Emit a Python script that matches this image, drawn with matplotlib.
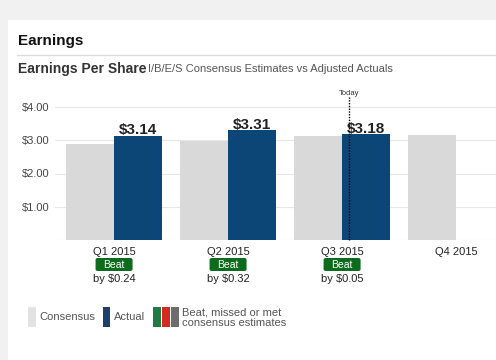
import matplotlib
matplotlib.use('Agg')
import matplotlib.pyplot as plt
import numpy as np
from matplotlib.patches import Rectangle, FancyBboxPatch
from matplotlib.lines import Line2D
from matplotlib.transforms import blended_transform_factory

# Data
quarters = ['Q1 2015', 'Q2 2015', 'Q3 2015', 'Q4 2015']
consensus = [2.90, 2.99, 3.13, 3.16]
actual = [3.14, 3.31, 3.18]
results = ['Beat', 'Beat', 'Beat']
surprise = [0.24, 0.32, 0.05]
y_ticks = [1, 2, 3, 4]
today_pos = 2.06

W, H = 496, 360
plt.rcParams['font.family'] = ['Liberation Sans', 'DejaVu Sans']

CONS = '#d9d9d9'
ACT = '#0b4677'
GREEN = '#0d6b1d'


def fx(px):
    return px / W


def fy(py):
    return 1 - py / H


fig = plt.figure(figsize=(W / 100, H / 100), dpi=100, facecolor='#f1f1f1')

# white card behind everything
fig.add_artist(Rectangle((fx(8), 0), 1 - fx(8), fy(20), transform=fig.transFigure,
                         facecolor='white', edgecolor='none', zorder=-5))
fig.add_artist(Line2D([fx(17), 1], [fy(55), fy(55)], transform=fig.transFigure,
                      color='#dddddd', lw=1))

fig.text(fx(18), fy(45), 'Earnings', fontsize=11, fontweight='bold', color='#111111')
fig.text(fx(18), fy(72.5), 'Earnings Per Share', fontsize=10, fontweight='bold', color='#333333')
fig.text(fx(148), fy(72.5), 'I/B/E/S Consensus Estimates vs Adjusted Actuals',
         fontsize=8, color='#555555')

# plot area
ymax = 4.3
px_per_unit = 33.25
top_py = 240 - ymax * px_per_unit
ax = fig.add_axes([fx(55), fy(240), 1 - fx(55), (240 - top_py) / H])
ax.set_facecolor('none')
ax.set_xlim(-0.518, 3.35)
ax.set_ylim(0, ymax)

x = np.arange(len(quarters))
w = 0.42
ax.bar(x - w / 2, consensus, width=w, color=CONS, linewidth=0, zorder=2)
ax.bar(x[:len(actual)] + w / 2, actual, width=w, color=ACT, linewidth=0, zorder=2)

for i, v in enumerate(actual):
    ax.annotate(f'${v:.2f}', (i + w / 2, v), xytext=(0, 1), textcoords='offset points',
                ha='center', va='baseline', fontsize=11, fontweight='bold',
                color='#222222', zorder=4)

ax.set_yticks(y_ticks)
ax.set_yticklabels([f'${v:.2f}' for v in y_ticks])
ax.set_xticks([])
ax.tick_params(axis='y', length=0, pad=4, labelsize=8, labelcolor='#444444')
ax.yaxis.grid(True, color='#e6e6e6', lw=0.8, zorder=0)
ax.axhline(0, color='#dddddd', lw=0.8, zorder=1)
for s in ax.spines.values():
    s.set_visible(False)

# "Today" marker
ax.plot([today_pos, today_pos], [0, ymax], color='black', lw=1, ls=(0, (1, 1)),
        zorder=5, clip_on=False)
ax.annotate('Today', (today_pos, ymax), xytext=(0, 1.5), textcoords='offset points',
            ha='center', va='baseline', fontsize=5.5, color='#333333')

# labels under the axis
bt = blended_transform_factory(ax.transData, fig.transFigure)
for i, q in enumerate(quarters):
    ax.text(i, fy(255), q, transform=bt, ha='center', va='baseline',
            fontsize=8, color='#222222')

fig.canvas.draw()
for i, (r, s) in enumerate(zip(results, surprise)):
    cx = ax.transData.transform((i, 0))[0]
    fig.add_artist(FancyBboxPatch((fx(cx - 18.5), fy(271)), fx(37), 13 / H,
                                  boxstyle='round,pad=0,rounding_size=0.004',
                                  transform=fig.transFigure, facecolor=GREEN,
                                  edgecolor='none', mutation_aspect=W / H))
    fig.text(fx(cx), fy(264.5), r, ha='center', va='center', fontsize=7.5,
             color='white')
    fig.text(fx(cx), fy(282.5), f'by ${s:.2f}', ha='center', va='baseline',
             fontsize=8, color='#222222')

# legend
def swatch(x0, x1, color):
    fig.add_artist(Rectangle((fx(x0), fy(327)), fx(x1 - x0), 20 / H,
                             transform=fig.transFigure, facecolor=color,
                             edgecolor='none'))


swatch(28, 36, '#e2e2e2')
fig.text(fx(39), fy(317.5), 'Consensus', va='center', fontsize=8, color='#555555')
swatch(103, 110, '#1c3f6e')
fig.text(fx(114), fy(317.5), 'Actual', va='center', fontsize=8, color='#555555')
swatch(153, 161, '#1f7a44')
swatch(162, 170, '#d42a22')
swatch(171, 179, '#6d6d6d')
fig.text(fx(182), fy(312.3), 'Beat, missed or met', va='center', fontsize=8, color='#555555')
fig.text(fx(182), fy(322.8), 'consensus estimates', va='center', fontsize=8, color='#555555')

fig.savefig('out.png', dpi=100, facecolor=fig.get_facecolor())
